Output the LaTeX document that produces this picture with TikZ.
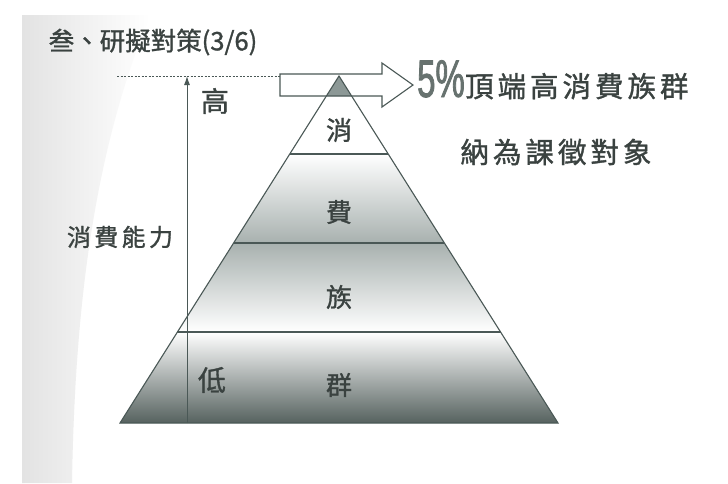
\documentclass[tikz,border=0pt]{standalone}
\usepackage{fontspec}
\setmainfont{Noto Sans CJK TC}
\newfontfamily\cjk[FakeBold=1.2]{Noto Sans CJK TC}
\newfontfamily\cjkwide[LetterSpace=14,FakeBold=1.2]{Noto Sans CJK TC}
\newfontfamily\pct[FakeStretch=0.62,FakeBold=1.5]{Liberation Sans}
\usetikzlibrary{arrows.meta}
\definecolor{ink}{HTML}{3A4240}
\definecolor{lineC}{HTML}{4A5856}
\definecolor{bandD}{HTML}{56625F}
\definecolor{bandM}{HTML}{A8B1AF}
\definecolor{tipC}{HTML}{8C9896}
\definecolor{pctC}{HTML}{67726F}
\tikzset{
  lbl/.style={inner sep=0pt, text=ink, font=\cjk\fontsize{26}{26}\selectfont},
  pyr/.style={draw=lineC, line width=1.1pt},
  axis/.style={draw=lineC, line width=1pt, -{Latex[length=9pt,width=6pt]}},
}
\begin{document}
\begin{tikzpicture}[x=1pt,y=-1pt]
\useasboundingbox (0,0) rectangle (728,483);
\fill[white] (0,0) rectangle (728,483);
% faint left background
\shade[left color=black!11, right color=white]
  (22,15) -- (150,15) .. controls (95,150) and (75,300) .. (72,483) -- (22,483) -- cycle;
% coordinates
\coordinate (A) at (339,76);
\coordinate (BL) at (120,423);
\coordinate (BR) at (558,423);
\coordinate (L1) at (289.8,154); \coordinate (R1) at (388.2,154);
\coordinate (L2) at (233.6,243); \coordinate (R2) at (444.4,243);
\coordinate (L3) at (177.4,332); \coordinate (R3) at (500.6,332);
\coordinate (TL) at (326.4,96); \coordinate (TR) at (351.6,96);
% bands
\fill[white] (A) -- (L1) -- (R1) -- cycle;
\fill[tipC] (A) -- (TL) -- (TR) -- cycle;
\shade[top color=white, middle color=black!8, bottom color=bandM] (L1) -- (R1) -- (R2) -- (L2) -- cycle;
\shade[top color=bandM, middle color=black!5, bottom color=white] (L2) -- (R2) -- (R3) -- (L3) -- cycle;
\shade[top color=white, middle color=black!7, bottom color=bandD] (L3) -- (R3) -- (BR) -- (BL) -- cycle;
% outline and dividers
\draw[pyr] (A) -- (BR) -- (BL) -- cycle;
\draw[pyr] (L1) -- (R1);
\draw[pyr] (L2) -- (R2);
\draw[pyr] (L3) -- (R3);
% dashed level line and axis
\coordinate (D0) at (117,76);
\coordinate (D1) at (280,76);
\draw[lineC, line width=0.8pt, dash pattern=on 2pt off 1.5pt] (D0) -- (D1);
\coordinate (AxB) at (187,423);
\coordinate (AxT) at (187,76);
\draw[axis] (AxB) -- (AxT);
% block arrow
\draw[lineC, line width=1.1pt, line join=miter]
  (280,74) -- (382,74) -- (382,63) -- (413,85) -- (382,107) -- (382,96) -- (280,96) -- cycle;
% labels
\node[lbl, font=\cjk\fontsize{25.5}{25.5}\selectfont] (title) at (153,42) {叁、研擬對策(3/6)};
\node[lbl, font=\cjk\fontsize{28}{28}\selectfont] (hi) at (215,101) {高};
\node[lbl, font=\cjk\fontsize{28}{28}\selectfont] (lo) at (212,380) {低};
\node[lbl, font=\cjkwide\fontsize{24}{24}\selectfont] (ability) at (120,237) {消費能力};
\node[lbl] (b1) at (339,130) {消};
\node[lbl] (b2) at (339,212) {費};
\node[lbl] (b3) at (339,297) {族};
\node[lbl] (b4) at (339,385) {群};
\node[inner sep=0pt, text=pctC, font=\pct\fontsize{53}{53}\selectfont, anchor=base west] (pct) at (417,97) {5\%};
\node[lbl, font=\cjkwide\fontsize{28.5}{28.5}\selectfont, anchor=base west] (top) at (pct.base east) {頂端高消費族群};
\node[lbl, font=\cjkwide\fontsize{28.5}{28.5}\selectfont] (tax) at (556,152) {納為課徵對象};
\end{tikzpicture}
\end{document}
